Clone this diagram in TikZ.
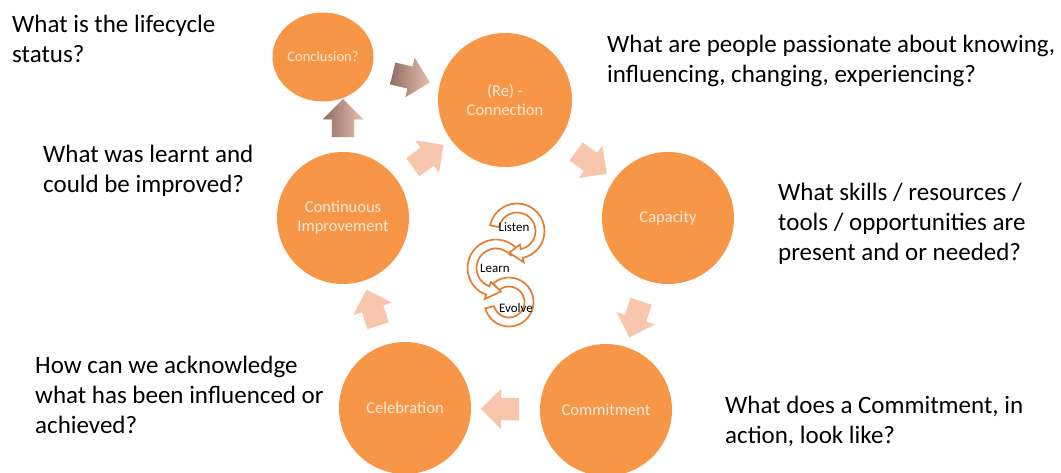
\documentclass[tikz,border=0pt]{standalone}
\usepackage{fontspec}
\setmainfont{Carlito}
\usetikzlibrary{shapes.geometric,shapes.arrows}
\definecolor{stageorange}{RGB}{247,150,70}
\definecolor{stagetext}{RGB}{253,234,218}
\definecolor{flowpink}{RGB}{248,198,172}
\definecolor{flowdark}{RGB}{143,110,100}
\definecolor{flowlight}{RGB}{232,190,172}
\definecolor{ringorange}{RGB}{228,125,50}

\begin{document}
\begin{tikzpicture}[x=1pt, y=-1pt,
		stage/.style={circle, fill=stageorange, text=stagetext, minimum size=132pt, inner sep=0pt, align=center, font=\fontsize{16.5}{19}\selectfont},
		question/.style={anchor=base west, align=left, inner sep=0pt, font=\fontsize{25}{30}\selectfont},
		flow/.style={single arrow, fill=flowpink, minimum height=38pt, minimum width=40pt, inner xsep=0pt, inner ysep=11pt, single arrow head extend=9pt, sloped, allow upside down},
		flowshade/.style={flow, left color=flowdark, right color=flowlight},
		ring/.style={draw=ringorange, fill=white, line width=1.7pt, line join=miter},
		ringlabel/.style={font=\fontsize{13}{15}\selectfont, inner sep=0pt}]
		\useasboundingbox (0,0) rectangle (1061,473);
		% stages
		\node[ellipse, fill=stageorange, text=stagetext, minimum width=101pt, minimum height=89pt, inner sep=0pt, font=\fontsize{14.5}{17}\selectfont] (concl) at (323,57) {Conclusion?};
		\node[stage, minimum size=134pt] (conn) at (505,100) {(Re) -\\Connection};
		\node[stage] (cap) at (668,218) {Capacity};
		\node[stage] (commit) at (606,410) {Commitment};
		\node[stage] (celeb) at (405,408) {Celebration};
		\node[stage] (improve) at (343,218) {Continuous\\Improvement};
		% block arrows
		\path (concl) -- (conn) node[flowshade, midway] (f1) {};
		\path (conn) -- (cap) node[flow, midway] (f2) {};
		\path (cap) -- (commit) node[flow, midway] (f3) {};
		\path (commit) -- (celeb) node[flow, midway] (f4) {};
		\path (celeb) -- (improve) node[flow, midway] (f5) {};
		\path (improve) -- (conn) node[flow, midway] (f6) {};
		\path (improve.north) -- (improve.north |- concl.south) node[flowshade, midway, xshift=3pt] (f7) {};
		% listen / learn / evolve
		\begin{scope}[shift={(509,302)}]
			\draw[ring] (-130:24.5) arc[start angle=-130, end angle=165, radius=24.5] -- (165:15.5) arc[start angle=165, end angle=-130, radius=15.5] -- cycle;
		\end{scope}
		\begin{scope}[shift={(496,268)}]
			\draw[ring] (-40:28.5) arc[start angle=-40, end angle=-250, radius=28.5] -- (-250:33) -- (-282:24) -- (-250:15) -- (-250:19.5) arc[start angle=-250, end angle=-40, radius=19.5] -- cycle;
		\end{scope}
		\begin{scope}[shift={(517,231)}]
			\draw[ring] (-168:27.5) arc[start angle=-168, end angle=78, radius=27.5] -- (78:32) -- (110:23) -- (78:14) -- (78:18.5) arc[start angle=78, end angle=-168, radius=18.5] -- cycle;
		\end{scope}
		\node[ringlabel] (listen) at (514,227) {Listen};
		\node[ringlabel] (learn) at (495,268) {Learn};
		\node[ringlabel] (evolve) at (516,308) {Evolve};
		% questions
		\node[question] (q1) at (12,63) {What is the lifecycle\\status?};
		\node[question] (q2) at (607,83) {What are people passionate about knowing,\\influencing, changing, experiencing?};
		\node[question] (q3) at (43,193) {What was learnt and\\could be improved?};
		\node[question] (q4) at (778,261) {What skills / resources /\\tools / opportunities are\\present and or needed?};
		\node[question] (q5) at (35,433) {How can we acknowledge\\what has been influenced or\\achieved?};
		\node[question] (q6) at (725,443) {What does a Commitment, in\\action, look like?};
	\end{tikzpicture}
\end{document}
